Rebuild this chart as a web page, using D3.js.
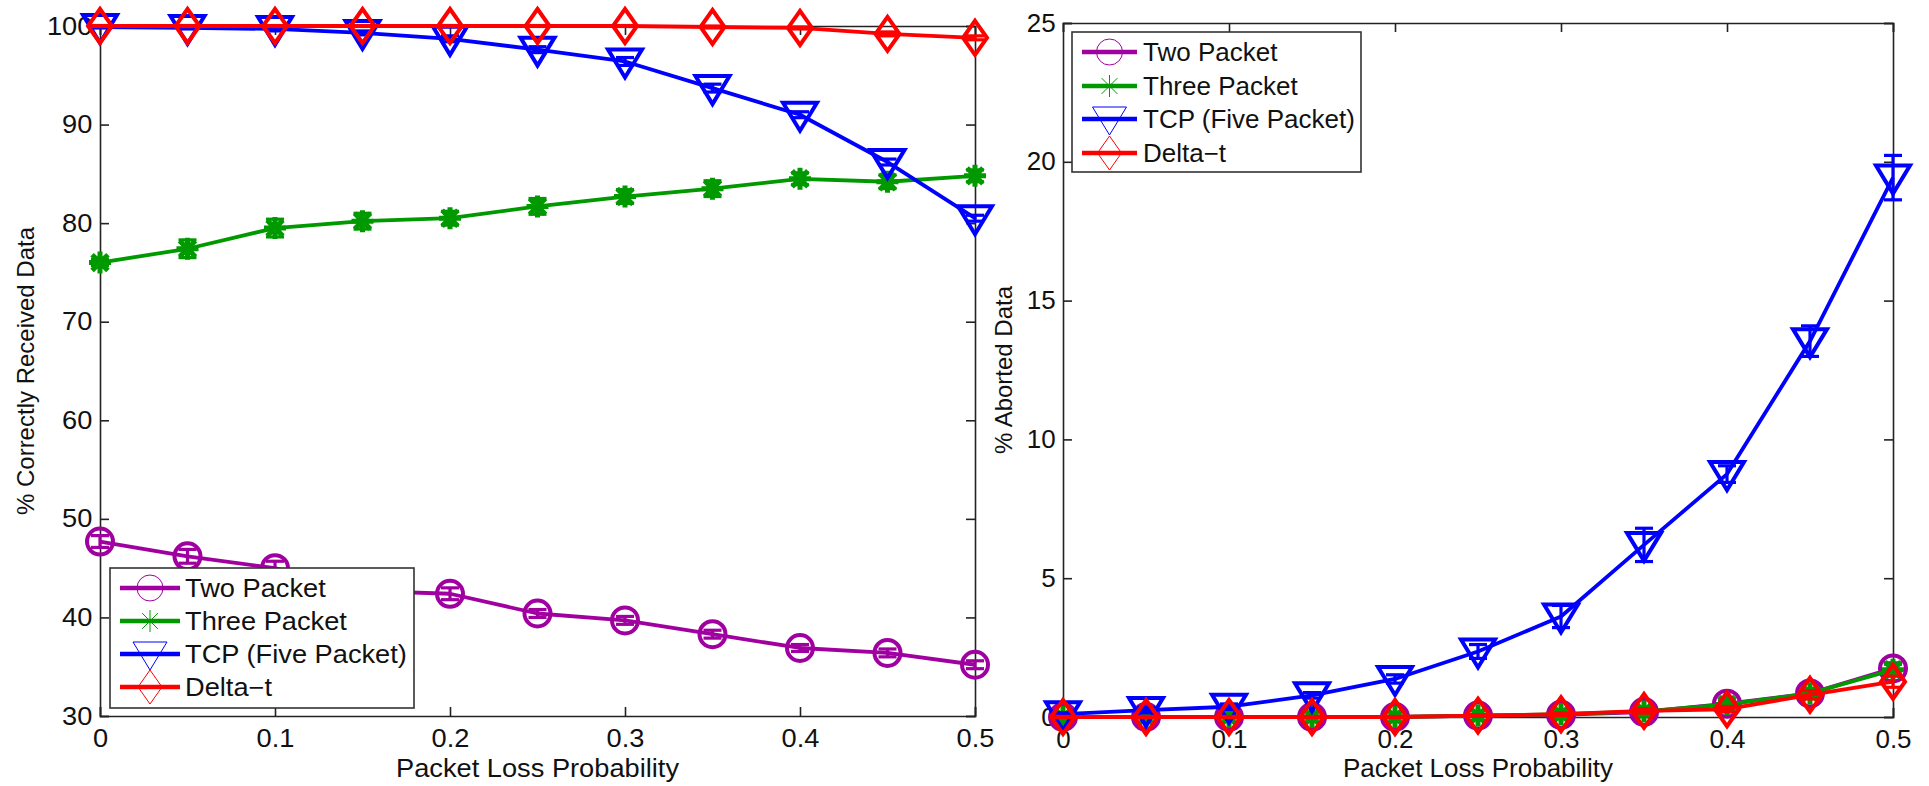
<!DOCTYPE html>
<html>
<head>
<meta charset="utf-8">
<script src="https://cdnjs.cloudflare.com/ajax/libs/d3/7.8.5/d3.min.js"></script>
<style>
  html, body { margin: 0; padding: 0; background: #fff; }
  svg { display: block; font-family: "Liberation Sans", Arial, sans-serif; }
</style>
</head>
<body>
<svg id="chart" width="1929" height="786"></svg>
<script>
// ---------- data ----------
const xValues = [0, 0.05, 0.1, 0.15, 0.2, 0.25, 0.3, 0.35, 0.4, 0.45, 0.5];
const seriesNames = ["Two Packet", "Three Packet", "TCP (Five Packet)", "Delta\u2212t"];
const seriesColors = ["#a000a0", "#009900", "#0000ff", "#ff0000"];
const seriesMarkers = ["circle", "asterisk", "triangle", "diamond"];

// left panel: % correctly received data
const recvTwo   = [47.7, 46.2, 45.0, 42.7, 42.4, 40.4, 39.7, 38.3, 36.9, 36.4, 35.2];
const recvThree = [76.0, 77.4, 79.5, 80.2, 80.5, 81.7, 82.7, 83.5, 84.5, 84.2, 84.8];
const recvTCP   = [99.9, 99.8, 99.7, 99.3, 98.7, 97.6, 96.4, 93.7, 91.0, 86.2, 80.5];
const recvDelta = [100, 100, 100, 100, 100, 100, 100, 99.9, 99.8, 99.2, 98.8];
const recvTwoErr   = [0.6, 0.7, 0.7, 0.6, 0.6, 0.4, 0.4, 0.4, 0.35, 0.4, 0.4];
const recvThreeErr = [0.3, 0.9, 0.9, 0.8, 0.7, 0.8, 0.7, 0.8, 0.6, 0.7, 0.6];
const recvTCPErr   = [0.1, 0.1, 0.2, 0.2, 0.3, 0.3, 0.4, 0.4, 0.3, 0.3, 0.3];
const recvDeltaErr = [0.05, 0.05, 0.05, 0.05, 0.05, 0.05, 0.05, 0.1, 0.1, 0.2, 0.2];

// right panel: % aborted data
const abortTwo   = [0, 0, 0, 0, 0, 0.05, 0.08, 0.18, 0.48, 0.85, 1.75];
const abortThree = [0, 0, 0, 0, 0, 0.05, 0.1, 0.2, 0.45, 0.85, 1.7];
const abortTCP   = [0.1, 0.25, 0.37, 0.78, 1.37, 2.36, 3.62, 6.2, 8.75, 13.54, 19.43];
const abortDelta = [0, 0, 0, 0, 0, 0.05, 0.1, 0.22, 0.28, 0.8, 1.27];
const abortTwoErr   = [0.02, 0.02, 0.02, 0.02, 0.02, 0.03, 0.05, 0.08, 0.1, 0.15, 0.2];
const abortThreeErr = [0.02, 0.02, 0.02, 0.02, 0.02, 0.03, 0.05, 0.08, 0.1, 0.15, 0.2];
const abortTCPErr   = [0.05, 0.1, 0.1, 0.1, 0.15, 0.25, 0.4, 0.6, 0.3, 0.55, 0.8];
const abortDeltaErr = [0.02, 0.02, 0.02, 0.02, 0.02, 0.03, 0.05, 0.08, 0.1, 0.15, 0.2];

const xTicks = [0, 0.1, 0.2, 0.3, 0.4, 0.5];
const xTickLabels = ["0", "0.1", "0.2", "0.3", "0.4", "0.5"];
const recvTicks = [30, 40, 50, 60, 70, 80, 90, 100];
const abortTicks = [0, 5, 10, 15, 20, 25];
const xLabel = "Packet Loss Probability";
const recvLabel = "% Correctly Received Data";
const abortLabel = "% Aborted Data";

// ---------- drawing ----------
const svg = d3.select("#chart");
const FONT = 25;

function markerPath(type, s) {
  const p = d3.path();
  if (type === "triangle") {
    const w = 17 * s, t = 12 * s, b = 16 * s;
    p.moveTo(-w, -t); p.lineTo(w, -t); p.lineTo(0, b); p.closePath();
  } else if (type === "diamond") {
    const w = 12 * s, h = 17 * s;
    p.moveTo(0, -h); p.lineTo(w, 0); p.lineTo(0, h); p.lineTo(-w, 0); p.closePath();
  } else if (type === "asterisk") {
    const r = 11 * s, d = r * 0.72;
    p.moveTo(0, -r); p.lineTo(0, r);
    p.moveTo(-r, 0); p.lineTo(r, 0);
    p.moveTo(-d, -d); p.lineTo(d, d);
    p.moveTo(-d, d); p.lineTo(d, -d);
  } else {
    const r = 13 * s;
    p.moveTo(r, 0); p.arc(0, 0, r, 0, Math.PI * 2);
  }
  return p.toString();
}

function hText(parent, x, y, sx, str, anchor, dy) {
  return parent.append("text")
    .attr("transform", `translate(${x},${y}) scale(${sx},1)`)
    .attr("text-anchor", anchor || "start")
    .attr("dy", dy || 0)
    .attr("font-size", FONT).attr("fill", "#111").text(str);
}

function drawPanel(cfg) {
  const x = d3.scaleLinear().domain([0, 0.5]).range([cfg.left, cfg.right]);
  const y = d3.scaleLinear().domain(cfg.yDomain).range([cfg.bottom, cfg.top]);
  const g = svg.append("g");
  const tickLen = 9;
  const sx = cfg.sx;

  const fmtX = d => xTickLabels[xTicks.indexOf(d)];
  const axB = g.append("g").attr("transform", `translate(0,${cfg.bottom})`)
    .call(d3.axisBottom(x).tickValues(xTicks).tickFormat(fmtX).tickSize(-tickLen).tickPadding(13));
  const axT = g.append("g").attr("transform", `translate(0,${cfg.top})`)
    .call(d3.axisTop(x).tickValues(xTicks).tickFormat("").tickSize(-tickLen));
  const axL = g.append("g").attr("transform", `translate(${cfg.left},0)`)
    .call(d3.axisLeft(y).tickValues(cfg.yTicks).tickFormat(d3.format("d")).tickSize(-tickLen).tickPadding(7));
  const axR = g.append("g").attr("transform", `translate(${cfg.right},0)`)
    .call(d3.axisRight(y).tickValues(cfg.yTicks).tickFormat("").tickSize(-tickLen));
  [axB, axT, axL, axR].forEach(a => {
    a.select(".domain").attr("stroke", "#222").attr("stroke-width", 1.6);
    a.selectAll(".tick line").attr("stroke", "#222").attr("stroke-width", 1.6);
    a.selectAll("text").attr("font-size", FONT).attr("fill", "#111")
      .attr("font-family", "'Liberation Sans', Arial, sans-serif");
  });
  axB.selectAll("text").attr("dy", "0.71em")
    .attr("transform", `scale(${sx},1)`);
  axL.selectAll("text").attr("transform", `scale(${sx},1)`);

  // axis labels
  hText(g, (cfg.left + cfg.right) / 2, 777, sx, xLabel, "middle");
  g.append("text")
    .attr("transform", `translate(${cfg.yLabelX},${(cfg.top + cfg.bottom) / 2}) rotate(-90)`)
    .attr("text-anchor", "middle").attr("font-size", 24).attr("fill", "#111").text(cfg.yLabel);

  // series
  const line = d3.line().x(d => x(d.x)).y(d => y(d.v));
  cfg.series.forEach((vals, si) => {
    const errs = cfg.errors[si];
    const color = seriesColors[si];
    const data = xValues.map((xv, i) => ({ x: xv, v: vals[i], e: errs[i] }));
    const sg = g.append("g");
    sg.append("path").datum(data).attr("d", line)
      .attr("fill", "none").attr("stroke", color).attr("stroke-width", 3.8)
      .attr("stroke-linejoin", "round");
    const eb = sg.selectAll(".eb").data(data).enter().append("g");
    eb.append("line").attr("x1", d => x(d.x)).attr("x2", d => x(d.x))
      .attr("y1", d => y(d.v - d.e)).attr("y2", d => y(d.v + d.e))
      .attr("stroke", color).attr("stroke-width", 3.2);
    [-1, 1].forEach(sign => {
      eb.append("line").attr("x1", d => x(d.x) - 9).attr("x2", d => x(d.x) + 9)
        .attr("y1", d => y(d.v + sign * d.e)).attr("y2", d => y(d.v + sign * d.e))
        .attr("stroke", color).attr("stroke-width", 3.2);
    });
    sg.selectAll(".mk").data(data).enter().append("path")
      .attr("transform", d => `translate(${x(d.x)},${y(d.v)})`)
      .attr("d", markerPath(seriesMarkers[si], 1))
      .attr("fill", "none").attr("stroke", color)
      .attr("stroke-width", seriesMarkers[si] === "asterisk" ? 5 : 4)
      .attr("stroke-linejoin", "miter");
  });

  // legend
  const L = cfg.legend;
  const lg = g.append("g");
  lg.append("rect").attr("x", L.x0).attr("y", L.y0)
    .attr("width", L.x1 - L.x0).attr("height", L.y1 - L.y0)
    .attr("fill", "#fff").attr("stroke", "#333").attr("stroke-width", 1.6);
  seriesNames.forEach((name, si) => {
    const ry = L.rows[si];
    lg.append("line").attr("x1", L.lx0).attr("x2", L.lx1).attr("y1", ry).attr("y2", ry)
      .attr("stroke", seriesColors[si]).attr("stroke-width", 4.5);
    lg.append("path").attr("transform", `translate(${(L.lx0 + L.lx1) / 2},${ry})`)
      .attr("d", markerPath(seriesMarkers[si], 1.0))
      .attr("fill", "none").attr("stroke", seriesColors[si]).attr("stroke-width", 1);
    hText(lg, L.tx, ry, sx, name, "start", "0.36em");
  });
}

drawPanel({
  left: 100, right: 975, top: 26, bottom: 716, sx: 1.09,
  yDomain: [30, 100], yTicks: recvTicks, yLabel: recvLabel, yLabelX: 34,
  series: [recvTwo, recvThree, recvTCP, recvDelta],
  errors: [recvTwoErr, recvThreeErr, recvTCPErr, recvDeltaErr],
  legend: { x0: 110, x1: 414, y0: 568, y1: 708, rows: [588, 621, 654, 687], lx0: 120, lx1: 180, tx: 185 }
});

drawPanel({
  left: 1063, right: 1893, top: 23, bottom: 717, sx: 1.04,
  yDomain: [0, 25], yTicks: abortTicks, yLabel: abortLabel, yLabelX: 1012,
  series: [abortTwo, abortThree, abortTCP, abortDelta],
  errors: [abortTwoErr, abortThreeErr, abortTCPErr, abortDeltaErr],
  legend: { x0: 1072, x1: 1361, y0: 32, y1: 172, rows: [52, 86, 119, 153], lx0: 1082, lx1: 1137, tx: 1143 }
});
</script>
</body>
</html>
